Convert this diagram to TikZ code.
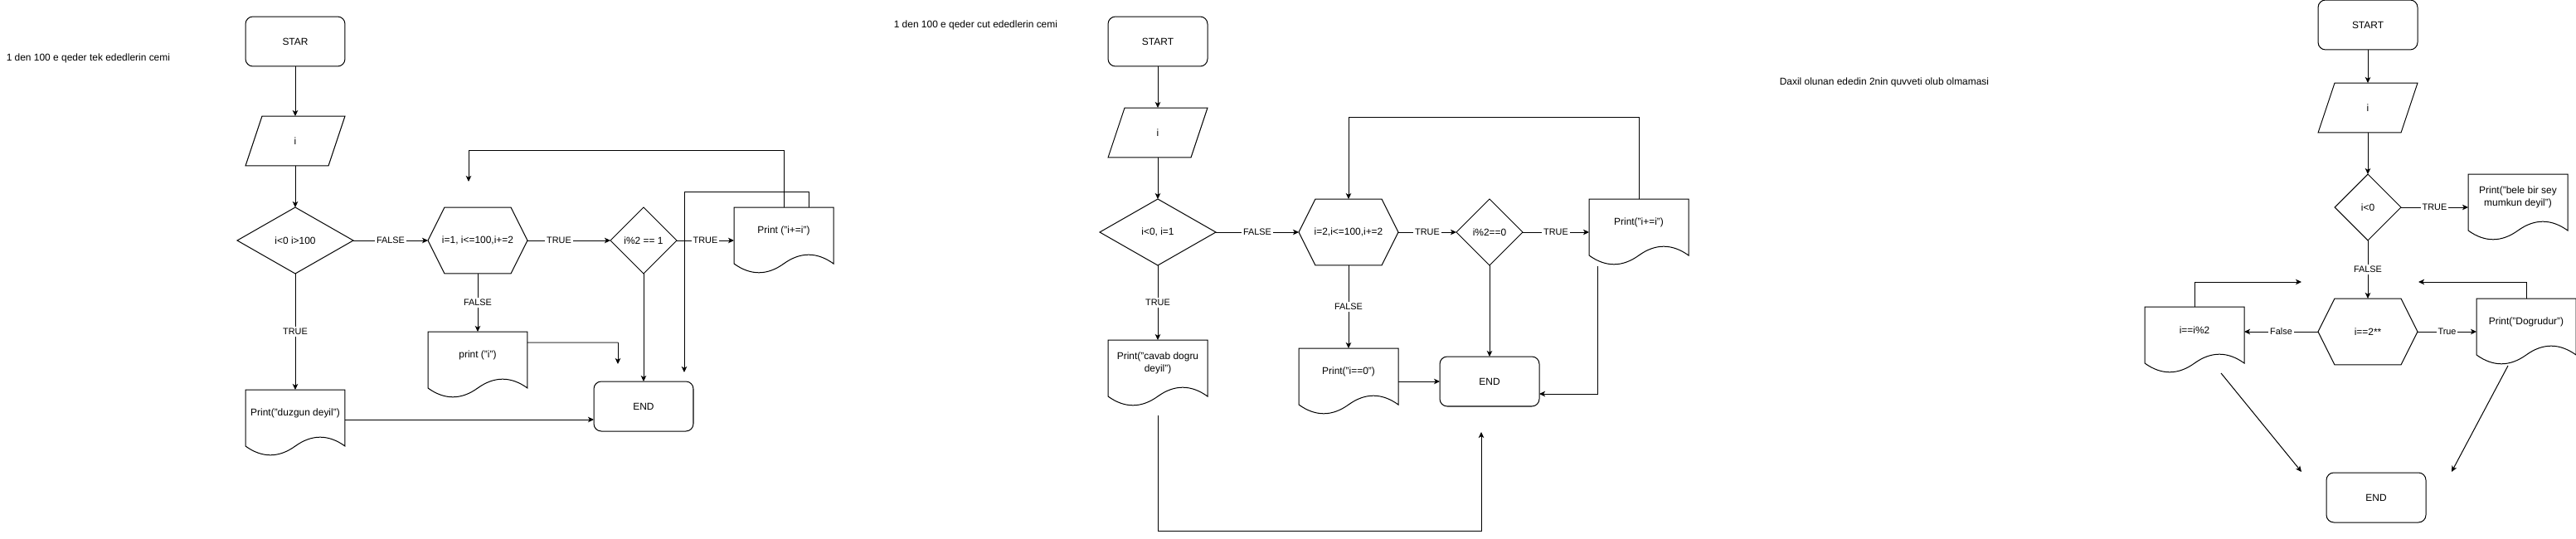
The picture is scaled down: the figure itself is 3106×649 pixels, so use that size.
\documentclass[tikz,border=0pt]{standalone}
\usepackage{fontspec}
\setmainfont{Liberation Sans}
\usepackage{tikz}
\usetikzlibrary{arrows.meta,positioning,calc,shapes.geometric}

\tikzset{
  base/.style={outer sep=0pt, inner sep=1pt, align=center, font=\fontsize{6.8pt}{8.2pt}\selectfont},
  term/.style={base, draw, rounded corners=0.18cm, minimum width=2.4cm, minimum height=1.2cm},
  iobox/.style={base, minimum width=2.4cm, minimum height=1.2cm},
  hexbox/.style={base, minimum width=2.4cm, minimum height=1.6cm},
  docbox/.style={base, minimum width=2.4cm, minimum height=1.12cm},
  decide/.style={base, draw, diamond, inner sep=0pt, minimum width=#1, minimum height=1.6cm},
  decide/.default=2.8cm,
  lbl/.style={fill=white, inner sep=1pt, font=\fontsize{6.2pt}{7pt}\selectfont},
  arr/.style={-{Stealth[length=0.14cm,width=0.13cm,inset=0.035cm]}},
  title/.style={base, anchor=west}
}

\begin{document}
\begin{tikzpicture}[x=0.02cm, y=-0.02cm, line width=0.57pt]
\useasboundingbox (0,0) rectangle (3106,649);

% Titles
\node[title] (title1) at (6,70) {1 den 100 e qeder tek ededlerin cemi};
\node[title] (title2) at (1076,30) {1 den 100 e qeder cut ededlerin cemi};
\node[title] (title3) at (2144,99) {Daxil olunan ededin 2nin quvveti olub olmamasi};

% Chart 1
\node[term] (start1) at (356,50) {STAR};
\node[iobox] (in1) at (356,170) {i};
\node[decide] (cond1) at (356,290) {i<0 i>100};
\node[hexbox] (loop1) at (576,290) {i=1, i<=100,i+=2};
\node[decide=1.6cm] (mod1) at (776,290) {i\%2 == 1};
\node[docbox] (add1) at (945,278) {Print ("i+=i")};
\node[docbox] (out1) at (576,428) {print ("i")};
\node[term] (end1) at (776,490) {END};
\node[docbox] (err1) at (356,498) {Print("duzgun deyil")};

\draw[arr] (start1) -- (in1);
\draw[arr] (in1) -- (cond1);
\draw[arr] (cond1) -- node[lbl] {FALSE} (loop1);
\draw[arr] (loop1) -- node[lbl,pos=0.38] {TRUE} (mod1);
\draw[arr] (mod1.east) -- node[lbl] {TRUE} (mod1.east -| add1.west);
\draw[arr] (loop1) -- node[lbl] {FALSE} (out1);
\draw[arr] (mod1) -- (end1);
\draw[arr] (cond1) -- node[lbl] {TRUE} (err1);
\coordinate (e1) at ([yshift=-0.16cm]err1.east);
\draw[arr] (e1) -- (e1 -| end1.west);
% loose ends
\coordinate (top1) at (565,181);
\coordinate (back1) at (565,219);
\draw[arr] (add1.north) |- (top1) -- (back1);
\coordinate (top1b) at (825,231);
\coordinate (drop1) at (825,449);
\draw[arr] ([xshift=0.6cm]add1.north) |- (top1b) -- (drop1);
\coordinate (turn1) at (745,413);
\coordinate (drop1b) at (745,439);
\draw[gray, line width=0.85pt] ([yshift=0.3cm]out1.east) -- (turn1);
\draw[arr] (turn1) -- (drop1b);

% Chart 2
\node[term] (start2) at (1396,50) {START};
\node[iobox] (in2) at (1396,160) {i};
\node[decide] (cond2) at (1396,280) {i<0, i=1};
\node[hexbox] (loop2) at (1626,280) {i=2,i<=100,i+=2};
\node[decide=1.6cm] (mod2) at (1796,280) {i\%2==0};
\node[docbox] (add2) at (1976,268) {Print("i+=i")};
\node[docbox] (out2) at (1626,448) {Print("i==0")};
\node[term] (end2) at (1796,460) {END};
\node[docbox] (err2) at (1396,438) {Print("cavab dogru\\deyil")};

\draw[arr] (start2) -- (in2);
\draw[arr] (in2) -- (cond2);
\draw[arr] (cond2) -- node[lbl] {FALSE} (loop2);
\draw[arr] (loop2) -- node[lbl] {TRUE} (mod2);
\draw[arr] (mod2.east) -- node[lbl] {TRUE} (mod2.east -| add2.west);
\coordinate (top2) at (1626,141);
\draw[arr] (add2.north) |- (top2) -- (loop2.north);
\draw[arr] (loop2) -- node[lbl] {FALSE} (out2);
\draw[arr] (out2.east |- end2.west) -- (end2.west);
\draw[arr] (mod2) -- (end2);
\draw[arr] (cond2) -- node[lbl] {TRUE} (err2);
\coordinate (a2) at (1926,321);
\coordinate (e2) at ([yshift=-0.3cm]end2.east);
\draw[arr] (a2) |- (e2);
\coordinate (b2) at (1396,501);
\coordinate (low2) at (1786,640);
\coordinate (c2) at (1786,521);
\draw[arr] (b2) |- (low2) -- (c2);

% Chart 3
\node[term] (start3) at (2855,30) {START};
\node[iobox] (in3) at (2855,130) {i};
\node[decide=1.6cm] (cond3) at (2855,250) {i<0};
\node[docbox] (msg3) at (3036,238) {Print("bele bir sey\\mumkun deyil")};
\node[hexbox] (hex3) at (2855,400) {i==2**};
\node[docbox] (odd3) at (2646,398) {i==i\%2};
\node[docbox] (yes3) at (3046,388) {Print("Dogrudur")};
\node[term] (end3) at (2865,600) {END};

\draw[arr] (start3) -- (in3);
\draw[arr] (in3) -- (cond3);
\draw[arr] (cond3.east) -- node[lbl] {TRUE} (cond3.east -| msg3.west);
\draw[arr] (cond3) -- node[lbl] {FALSE} (hex3);
\draw[arr] (hex3.west) -- node[lbl] {False} (hex3.west -| odd3.east);
\draw[arr] (hex3.east) -- node[lbl] {True} (hex3.east -| yes3.west);
\coordinate (p3a) at (2775,340);
\coordinate (p3b) at (2916,340);
\draw[arr] (odd3.north) |- (p3a);
\draw[arr] (yes3.north) |- (p3b);
\coordinate (q3a) at (2678,450);
\coordinate (r3a) at (2775,569);
\coordinate (q3b) at (3024,441);
\coordinate (r3b) at (2956,569);
\draw[arr] (q3a) -- (r3a);
\draw[arr] (q3b) -- (r3b);

% Outlines
\foreach \n in {in1,in2,in3}
  \draw ([xshift=0.4cm]\n.north west) -- (\n.north east) -- ([xshift=-0.4cm]\n.south east) -- (\n.south west) -- cycle;
\foreach \n in {loop1,loop2,hex3}
  \draw (\n.west) -- ([xshift=0.4cm]\n.north west) -- ([xshift=-0.4cm]\n.north east) -- (\n.east)
    -- ([xshift=-0.4cm]\n.south east) -- ([xshift=0.4cm]\n.south west) -- cycle;
\foreach \n in {add1,out1,err1,add2,out2,err2,msg3,odd3,yes3}
  \draw (\n.north west) -- (\n.north east) -- ([yshift=-0.24cm]\n.south east)
    .. controls ([shift={(0.8cm,0.048cm)}]\n.south) and ([shift={(0.4cm,0.048cm)}]\n.south) .. ([yshift=-0.24cm]\n.south)
    .. controls ([shift={(-0.4cm,-0.528cm)}]\n.south) and ([shift={(-0.8cm,-0.528cm)}]\n.south) .. ([yshift=-0.24cm]\n.south west)
    -- cycle;
\end{tikzpicture}
\end{document}
